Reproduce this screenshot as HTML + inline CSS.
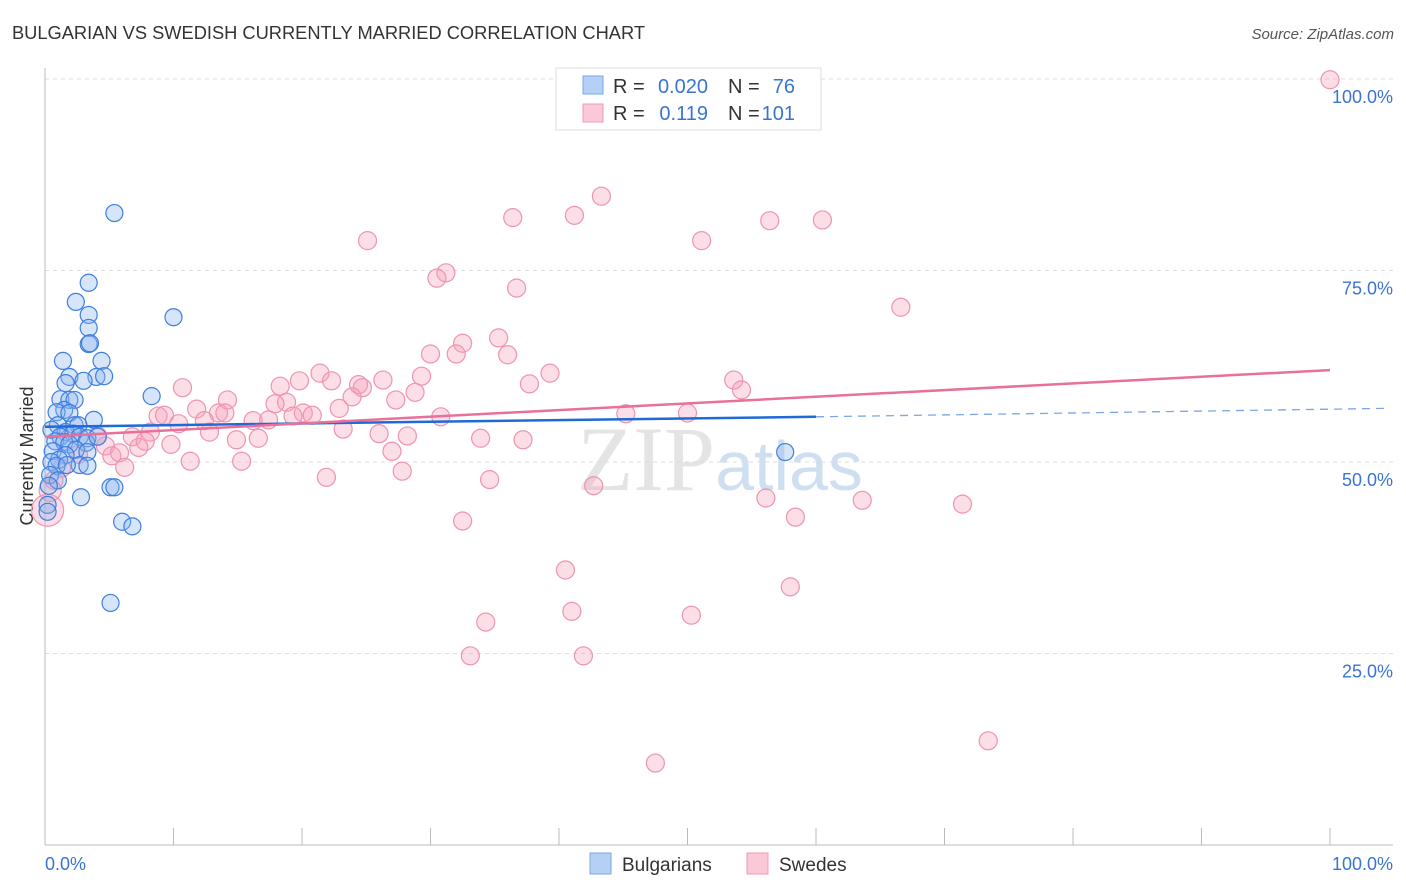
<!DOCTYPE html>
<html><head><meta charset="utf-8"><style>
body{margin:0;background:#fff;font-family:"Liberation Sans",sans-serif}
</style></head><body>
<svg id="chart" width="1406" height="892" xmlns="http://www.w3.org/2000/svg" style="display:block">
<text x="12" y="39" font-size="18.3" fill="#333" textLength="633">BULGARIAN VS SWEDISH CURRENTLY MARRIED CORRELATION CHART</text>
<text x="1394" y="39" font-size="15" fill="#555" font-style="italic" text-anchor="end">Source: ZipAtlas.com</text>
<text transform="translate(33,456) rotate(-90)" font-size="18" fill="#333" text-anchor="middle">Currently Married</text>
<text x="720" y="490" font-size="92" fill="#e4e4e4" text-anchor="middle" font-family="Liberation Serif,serif">ZIP<tspan fill="#cfdff2" font-family="Liberation Sans,sans-serif" font-size="70">atlas</tspan></text>
<g id="grid"></g><g id="marks"></g>
<g font-size="20">
<rect x="556" y="68" width="265" height="62" fill="#fff" stroke="#ddd"/>
<rect x="583" y="76" width="20" height="18" fill="#b5d0f5" stroke="#7aa6e6"/>
<rect x="583" y="104" width="20" height="18" fill="#fac8d7" stroke="#f09ab5"/>
<text x="613" y="93" fill="#333">R =</text><text x="708" y="93" fill="#3a74d0" text-anchor="end">0.020</text>
<text x="728" y="93" fill="#333">N =</text><text x="795" y="93" fill="#3a74d0" text-anchor="end">76</text>
<text x="613" y="120" fill="#333">R =</text><text x="708" y="120" fill="#3a74d0" text-anchor="end">0.119</text>
<text x="728" y="120" fill="#333">N =</text><text x="795" y="120" fill="#3a74d0" text-anchor="end">101</text>
</g>
<g>
<rect x="590" y="853" width="21" height="21" fill="#b5d0f5" stroke="#7aa6e6"/>
<text x="622" y="871" font-size="19" fill="#333">Bulgarians</text>
<rect x="747" y="853" width="21" height="21" fill="#fac8d7" stroke="#f09ab5"/>
<text x="779" y="871" font-size="19" fill="#333">Swedes</text>
</g>
</svg>
<script>
const yTicks=[25,50,75,100];
const xTickLabels=["0.0%","100.0%"];
const blueX=[5.4,3.4,2.4,10.0,3.4,3.4,3.4,3.5,1.4,4.4,1.9,4.0,4.6,1.6,3.0,8.3,1.2,1.9,2.3,1.5,0.9,1.9,3.8,1.0,2.3,2.6,0.5,1.6,2.2,1.2,2.7,3.3,0.8,1.5,1.9,3.2,4.1,2.4,0.6,3.3,1.6,1.1,0.5,2.7,3.3,0.9,1.7,0.4,1.0,0.3,5.1,5.4,2.8,0.2,0.2,6.0,6.8,5.1,57.6];
const blueY=[82.5,73.4,70.9,68.9,69.2,67.5,65.4,65.5,63.2,63.2,61.1,61.1,61.2,60.3,60.6,58.6,58.2,58.1,58.1,56.8,56.5,56.4,55.5,54.8,54.8,54.8,54.2,53.9,53.7,53.3,53.3,53.1,52.7,52.6,52.3,52.5,53.3,51.6,51.4,51.3,50.9,50.3,50.0,49.6,49.5,49.5,49.6,48.3,47.6,46.9,46.7,46.7,45.4,44.4,43.5,42.2,41.6,31.6,51.3];
const pinkX=[100,43.3,41.2,36.4,56.4,60.5,25.1,51.1,31.2,30.5,36.7,66.6,35.3,32.5,32.0,30.0,36.0,39.3,21.4,29.3,19.8,22.3,26.3,53.6,10.7,18.3,24.4,24.7,37.7,54.2,28.8,14.2,27.3,18.8,17.9,23.9,11.8,8.8,9.3,13.5,14.0,20.1,20.8,22.9,30.8,45.2,50.0,10.4,12.4,16.2,17.4,19.3,8.2,12.8,23.2,4.1,6.8,14.9,16.6,26.0,28.2,33.9,37.2,7.8,9.8,4.7,7.3,27.0,5.2,5.8,2.6,11.3,15.3,6.2,1.3,27.8,21.9,34.6,42.7,0.7,56.1,63.6,71.4,58.4,32.5,40.5,58.0,41.0,50.3,34.3,33.1,41.9,73.4,47.5,0.2,0.4];
const pinkY=[99.9,84.7,82.2,81.9,81.5,81.6,78.9,78.9,74.7,74.0,72.7,70.2,66.2,65.5,64.1,64.1,64.0,61.6,61.6,61.2,60.6,60.6,60.7,60.7,59.7,59.9,60.1,59.7,60.2,59.4,59.1,58.1,58.1,57.8,57.6,58.5,56.9,56.0,56.1,56.4,56.4,56.4,56.1,57.0,55.9,56.3,56.4,55.0,55.4,55.4,55.5,56.0,53.9,53.9,54.3,53.4,53.3,52.9,53.1,53.7,53.4,53.1,52.9,52.7,52.3,52.1,51.9,51.4,50.8,51.2,51.0,50.1,50.1,49.3,49.2,48.8,48.0,47.7,46.9,47.6,45.3,45.0,44.5,42.8,42.3,35.9,33.7,30.5,30.0,29.1,24.7,24.7,13.6,10.7,43.7,46.3];
const blueTrend=[54.6,55.9,57.0];
const pinkTrend=[53.3,62.0];
const NS="http://www.w3.org/2000/svg";
const xs=v=>45+v*12.85, ys=v=>845-v*7.66;
function mk(t,a,p){const e=document.createElementNS(NS,t);for(const k in a)e.setAttribute(k,a[k]);p.appendChild(e);return e;}
const grid=document.getElementById('grid'),marks=document.getElementById('marks');
yTicks.forEach(t=>{
 const l=mk('line',{x1:45,x2:1393,y1:ys(t),y2:ys(t),stroke:'#ddd','stroke-dasharray':'4,4'},grid);
 
 
 const tx=mk('text',{x:1393,y:ys(t)+24,'font-size':18,fill:'#3a74d0','text-anchor':'end'},grid);
 tx.textContent=t.toFixed(1)+'%';
 
 
});
let ax=mk('line',{x1:45,x2:45,y1:68,y2:845,stroke:'#bbb'},grid);


ax=mk('line',{x1:45,x2:1393,y1:845,y2:845,stroke:'#bbb'},grid);


for(let i=0;i<=10;i++){const t=mk('line',{x1:xs(i*10),x2:xs(i*10),y1:828,y2:845,stroke:'#bbb'},grid);
 
 }
[[0,'start',45],[100,'end',1393]].forEach((d,i)=>{const t=mk('text',{x:d[2],y:870,'font-size':18,fill:'#3a74d0','text-anchor':d[1]},grid);t.textContent=xTickLabels[i];
 
 });
pinkX.forEach((x,i)=>{const r=(i>=pinkX.length-2)?(i==pinkX.length-2?16:11):9;
 const c=mk('circle',{cx:xs(x),cy:ys(pinkY[i]),r:r,fill:'rgba(246,160,186,0.35)',stroke:'#ee93b0','stroke-width':1.2},marks);
 
 });
blueX.forEach((x,i)=>{const c=mk('circle',{cx:xs(x),cy:ys(blueY[i]),r:8.5,fill:'rgba(140,180,240,0.35)',stroke:'#3d7fe0','stroke-width':1.2},marks);
 
 });
let t=mk('line',{x1:xs(0),y1:ys(blueTrend[0]),x2:xs(60),y2:ys(blueTrend[1]),stroke:'#1f6ad6','stroke-width':2.5},marks);


t=mk('line',{x1:xs(60),y1:ys(blueTrend[1]),x2:xs(104.2),y2:ys(blueTrend[2]),stroke:'#7aa6e6','stroke-width':1.3,'stroke-dasharray':'8,6'},marks);


t=mk('line',{x1:xs(0),y1:ys(pinkTrend[0]),x2:xs(100),y2:ys(pinkTrend[1]),stroke:'#e8709a','stroke-width':2.5},marks);


</script>
</body></html>
